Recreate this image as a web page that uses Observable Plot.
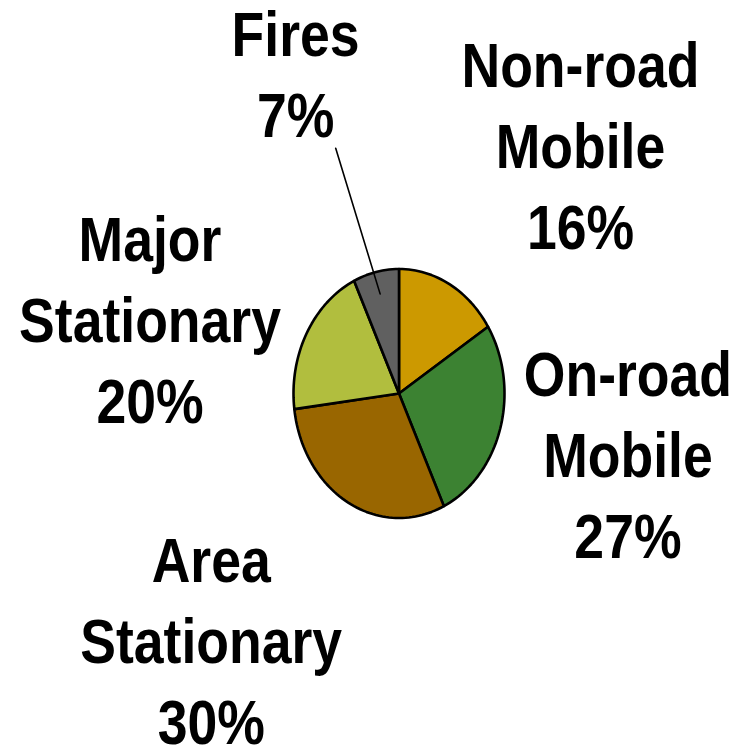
<!DOCTYPE html>
<html>
<head>
<meta charset="utf-8">
<script src="https://cdn.jsdelivr.net/npm/d3@7"></script>
<script src="https://cdn.jsdelivr.net/npm/@observablehq/plot@0.6"></script>
<style>
  html, body { margin: 0; padding: 0; background: #fff; }
  #chart svg { display: block; }
</style>
</head>
<body>
<div id="chart"></div>
<script>
// ---- data ----
const categories = ["Non-road Mobile", "On-road Mobile", "Area Stationary", "Major Stationary", "Fires"];
const labelLines = [["Non-road", "Mobile"], ["On-road", "Mobile"], ["Area", "Stationary"], ["Major", "Stationary"], ["Fires"]];
const shares = [16, 27, 30, 20, 7];
const colors = ["#CC9900", "#3C8232", "#996600", "#B1BE3E", "#606060"];

// ---- layout (label anchor points, in pie-radius units) ----
const labelPos = [[1.72, 2.81], [2.17, 0.33], [-1.78, -1.165], [-2.36, 1.414], [-0.98, 3.06]];
const leaderStart = [-0.60, 1.97];

// build slice polygons (clockwise from 12 o'clock)
const total = d3.sum(shares);
const slicePts = [];
let cum = 0;
shares.forEach((v, i) => {
  const a0 = cum / total * 2 * Math.PI;
  const a1 = (cum + v) / total * 2 * Math.PI;
  cum += v;
  const n = Math.max(8, Math.ceil(v * 2));
  slicePts.push({cat: categories[i], x: 0, y: 0});
  for (let k = 0; k <= n; k++) {
    const a = a0 + (a1 - a0) * k / n;
    slicePts.push({cat: categories[i], x: Math.sin(a), y: Math.cos(a)});
  }
  slicePts.push({cat: categories[i], x: 0, y: 0});
});

const labels = categories.map((c, i) => ({
  cat: c,
  text: [...labelLines[i], shares[i] + "%"].join("\n"),
  x: labelPos[i][0],
  y: labelPos[i][1]
}));

// leader for Fires: from label to inside its slice along mid-angle
const firesIdx = categories.indexOf("Fires");
const before = d3.sum(shares.slice(0, firesIdx));
const mid = (before + shares[firesIdx] / 2) / total * 2 * Math.PI;
const leader = [
  {x: leaderStart[0], y: leaderStart[1]},
  {x: 0.82 * Math.sin(mid), y: 0.82 * Math.cos(mid)}
];

const chart = Plot.plot({
  width: 733,
  height: 755,
  margin: 0,
  x: {domain: [-1, 1], range: [293, 504], axis: null},
  y: {domain: [-1, 1], range: [517.5, 268.5], axis: null},
  color: {domain: categories, range: colors},
  style: {background: "#fff"},
  marks: [
    Plot.line(slicePts, {x: "x", y: "y", z: "cat", fill: "cat", stroke: "#000", strokeWidth: 2.6, strokeLinejoin: "round", curve: "linear"}),
    Plot.line(leader, {x: "x", y: "y", stroke: "#000", strokeWidth: 1.6}),
    Plot.text(labels, {
      x: "x", y: "y", text: "text", dy: -14,
      textAnchor: "middle", lineAnchor: "top", lineHeight: 1.286,
      fontSize: 63, fontWeight: "bold",
      fontFamily: "'Liberation Sans Narrow', 'Arial Narrow', 'Liberation Sans', Arial, sans-serif",
      fill: "#000"
    })
  ]
});
// condense the bold labels horizontally (narrow face is not installed)
chart.querySelectorAll("g[aria-label='text'] text").forEach(t => {
  const tr = t.getAttribute("transform") || "";
  t.setAttribute("transform", tr + " scale(0.85,1)");
});
document.getElementById("chart").appendChild(chart);
</script>
</body>
</html>
